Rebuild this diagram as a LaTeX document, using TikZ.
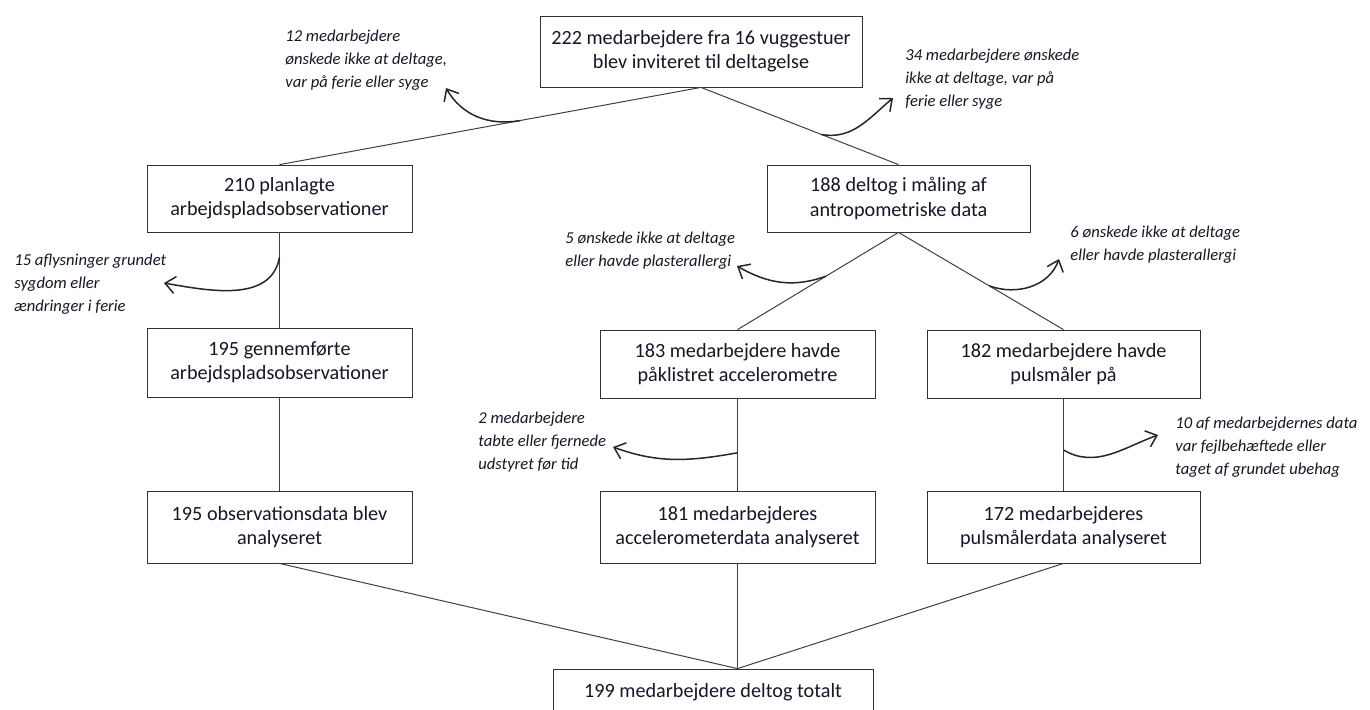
\documentclass[tikz,border=0pt]{standalone}
\usepackage{fontspec}
\setmainfont{Carlito}
\usepackage{tikz}
\usetikzlibrary{calc,arrows.meta}
\definecolor{txt}{RGB}{22,22,38}

\begin{document}
\begin{tikzpicture}[x=0.5pt,y=-0.5pt,
  box/.style={draw=black!80,align=center,inner sep=0pt,text=txt,font=\fontsize{10.1}{12.2}\selectfont},
  note/.style={anchor=west,align=left,inner sep=0pt,text=txt,font=\fontsize{8.3}{11.5}\selectfont\itshape},
  link/.style={draw=black!75,line width=0.5pt},
  drop/.style={-{Straight Barb[length=5pt,width=8.5pt]},line width=0.75pt,black!85}]
  \useasboundingbox (0,0) rectangle (1370,709);
  \clip (0,0) rectangle (1370,709);
  \node[box,minimum width=161pt,minimum height=35.5pt] (inv) at (701,51.5){222 medarbejdere fra 16 vuggestuer\\blev inviteret til deltagelse};
  \node[box,minimum width=132.5pt,minimum height=33.5pt] (plan) at (279.5,198.5){210 planlagte\\arbejdspladsobservationer};
  \node[box,minimum width=131.5pt,minimum height=33.5pt] (maal) at (898.5,198.5){188 deltog i måling af\\antropometriske data};
  \node[box,minimum width=132.5pt,minimum height=34.5pt] (gen) at (279.5,362.5){195 gennemførte\\arbejdspladsobservationer};
  \node[box,minimum width=137.5pt,minimum height=34pt] (acc) at (737.5,364){183 medarbejdere havde\\påklistret accelerometre};
  \node[box,minimum width=136.5pt,minimum height=34pt] (puls) at (1063.5,364){182 medarbejdere havde\\pulsmåler på};
  \node[box,minimum width=132.5pt,minimum height=36pt] (obs) at (279.5,527){195 observationsdata blev\\analyseret};
  \node[box,minimum width=137.5pt,minimum height=36pt] (accd) at (737.5,527){181 medarbejderes\\accelerometerdata analyseret};
  \node[box,minimum width=136.5pt,minimum height=36pt] (pulsd) at (1063.5,527){172 medarbejderes\\pulsmålerdata analyseret};
  \node[box,minimum width=160pt,minimum height=23pt] (tot) at (713,692){199 medarbejdere deltog totalt};
  \coordinate (meet) at (tot.north -| accd.south);

  \draw[link] (inv.south)--(plan.north); \draw[link] (inv.south)--(maal.north);
  \draw[link] (plan)--(gen); \draw[link] (gen)--(obs);
  \draw[link] (maal.south)--(acc.north); \draw[link] (maal.south)--(puls.north);
  \draw[link] (acc)--(accd); \draw[link] (puls)--(pulsd);
  \draw[link] (obs.south)--(meet); \draw[link] (accd.south)--(meet); \draw[link] (pulsd.south)--(meet);

  \node[note] (n12) at (285,60){12 medarbejdere\\ønskede ikke at deltage,\\var på ferie eller syge};
  \node[note] (n34) at (905,79){34 medarbejdere ønskede\\ikke at deltage, var på\\ferie eller syge};
  \node[note] (n15) at (14,284){15 aflysninger grundet\\sygdom eller\\ændringer i ferie};
  \node[note] (n5) at (565,250.5){5 ønskede ikke at deltage\\eller havde plasterallergi};
  \node[note] (n6) at (1070,244.5){6 ønskede ikke at deltage\\eller havde plasterallergi};
  \node[note] (n2) at (478,442){2 medarbejdere\\tabte eller fjernede\\udstyret før tid};
  \node[note] (n10) at (1175,447){10 af medarbejdernes data\\var fejlbehæftede eller\\taget af grundet ubehag};

  \coordinate (a1) at ($(inv.south)!0.43!(plan.north)$); \coordinate (e1) at (446,88);
  \coordinate (a2) at ($(inv.south)!0.61!(maal.north)$); \coordinate (e2) at (893,98);
  \coordinate (a3) at ($(plan.south)!0.26!(gen.north)$); \coordinate (e3) at (164,283);
  \coordinate (a4) at ($(maal.south)!0.45!(acc.north)$); \coordinate (e4) at (737,266);
  \coordinate (a5) at ($(maal.south)!0.55!(puls.north)$); \coordinate (e5) at (1059,259);
  \coordinate (a6) at ($(acc.south)!0.59!(accd.north)$); \coordinate (e6) at (613,447);
  \coordinate (a7) at ($(puls.south)!0.56!(pulsd.north)$); \coordinate (e7) at (1158,435);
  \draw[drop] (a1) to[out=190,in=-60] (e1);
  \draw[drop] (a2) to[out=-10,in=220] (e2);
  \draw[drop] (a3) to[out=-100,in=-10] (e3);
  \draw[drop] (a4) to[out=200,in=-30] (e4);
  \draw[drop] (a5) to[out=-20,in=-110] (e5);
  \draw[drop] (a6) to[out=190,in=-20] (e6);
  \draw[drop] (a7) to[out=-30,in=200] (e7);
\end{tikzpicture}
\end{document}
